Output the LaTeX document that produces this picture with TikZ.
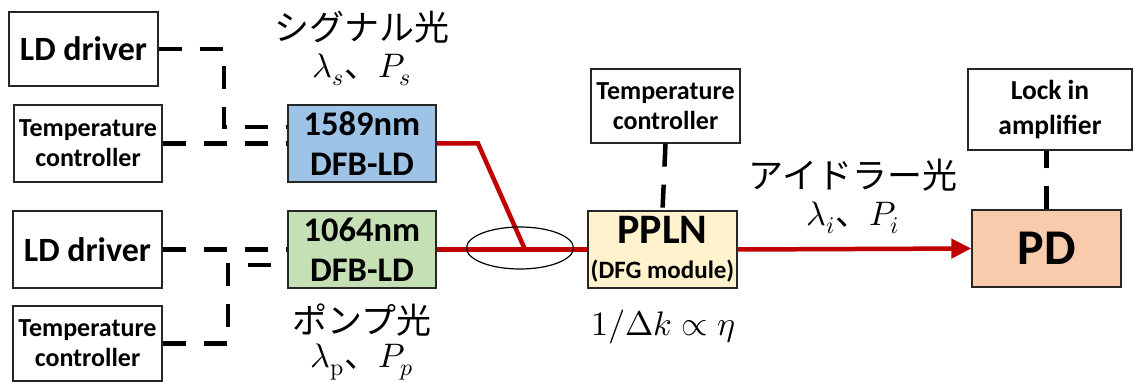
\documentclass[tikz,border=0pt]{standalone}
\usepackage{fontspec}
\usepackage{unicode-math}
\setmainfont{Carlito}
\setmathfont{Latin Modern Math}
\newfontfamily\jpfont{Noto Sans CJK JP}
\usepackage{tikz}
\usetikzlibrary{shapes.geometric, arrows.meta, positioning, calc}
\definecolor{sigblue}{RGB}{157, 195, 230}
\definecolor{pumpgreen}{RGB}{197, 224, 180}
\definecolor{pplnyellow}{RGB}{255, 242, 204}
\definecolor{pdpeach}{RGB}{248, 203, 173}
\definecolor{fiberred}{RGB}{192, 0, 0}
\newcommand{\fsz}[2]{\fontsize{#1}{#2}\selectfont}
\tikzset{
    unitbox/.style={draw=black!85, line width=1.3pt, align=center, inner sep=0pt, font=\bfseries},
    ctlline/.style={line width=4.5pt, dash pattern=on 23pt off 18pt},
    fiber/.style={draw=fiberred, line width=4.5pt},
    jplabel/.style={font=\fsz{35}{40}\jpfont},
    mathlabel/.style={font=\fsz{34}{40}}
}

\begin{document}
\begin{tikzpicture}[x=1pt, y=-1pt]
    \useasboundingbox (0,0) rectangle (1139,390);

    % drivers and controllers of the two lasers
    \node[unitbox, minimum width=149pt, minimum height=74pt, font=\bfseries\fsz{34}{38}] (drvS) at (83.5,49) {LD driver};
    \node[unitbox, minimum width=148pt, minimum height=77pt, font=\bfseries\fsz{26}{30}] (tcS) at (88,143.5) {Temperature\\controller};
    \node[unitbox, minimum width=149pt, minimum height=77pt, font=\bfseries\fsz{34}{38}] (drvP) at (87.5,249.5) {LD driver};
    \node[unitbox, minimum width=149pt, minimum height=75pt, font=\bfseries\fsz{26}{30}] (tcP) at (87.5,343.5) {Temperature\\controller};

    % lasers
    \node[unitbox, fill=sigblue, minimum width=148pt, minimum height=77pt, font=\bfseries\fsz{34.5}{40}] (ldS) at (362,143.5) {1589nm\\DFB-LD};
    \node[unitbox, fill=pumpgreen, minimum width=148pt, minimum height=77pt, font=\bfseries\fsz{34.5}{40}] (ldP) at (362,249.5) {1064nm\\DFB-LD};

    % crystal and detector
    \node[unitbox, fill=pplnyellow, minimum width=149pt, minimum height=77pt, font=\bfseries\fsz{25}{35}] (ppln) at (662.5,249.5)
        {{\fsz{42}{35}PPLN}\\(DFG module)};
    \node[unitbox, minimum width=149pt, minimum height=74pt, font=\bfseries\fsz{26}{30}] (tcM) at (665.5,106) {Temperature\\controller};
    \node[unitbox, fill=pdpeach, minimum width=149pt, minimum height=77pt, font=\bfseries\fsz{50}{56}] (pd) at (1046.5,248.5) {PD};
    \node[unitbox, minimum width=164pt, minimum height=81pt, font=\bfseries\fsz{27.5}{35}] (lia) at (1050,109.5) {Lock in\\amplifier};

    % labels
    \node[jplabel] (sigName) at (362,27) {シグナル光};
    \node[mathlabel] (sigSym) at (362,70) {$\lambda_s${\jpfont 、}$P_s$};
    \node[jplabel] (pumpName) at (362,320) {ポンプ光};
    \node[mathlabel] (pumpSym) at (362,362) {$\lambda_{\symup{p}}${\jpfont 、}$P_p$};
    \node[jplabel] (idlName) at (853,175) {アイドラー光};
    \node[mathlabel] (idlSym) at (853,218) {$\lambda_i${\jpfont 、}$P_i$};
    \node[mathlabel] (dkEta) at (663,327) {$1/\Delta k \propto \eta$};

    % control lines
    \coordinate (kS) at (224,127);
    \coordinate (kP) at (228,265);
    \draw[ctlline] (drvS.east) -| (kS) -- (kS -| ldS.west);
    \draw[ctlline] (tcS.east) -- (ldS.west);
    \draw[ctlline] (drvP.east) -- (ldP.west);
    \draw[ctlline] (tcP.east) -| (kP) -- (kP -| ldP.west);
    \draw[ctlline] (tcM.south) -- (ppln.north);
    \draw[ctlline] (pd.north) -- (pd.north |- lia.south);

    % optical path
    \coordinate (bend) at (478,143.5);
    \coordinate (join) at (525,249.5);
    \draw[fiber, line join=miter] (ldS.east) -- (bend) -- (join);
    \draw[fiber] (ldP.east) -- (ppln.west);
    \node[draw, ellipse, line width=1.2pt, minimum width=107pt, minimum height=42pt] (cpl) at (520,248) {};
    \draw[fiber, -{Triangle[length=20pt, width=19pt]}] (ppln.east) -- (pd.west);
\end{tikzpicture}
\end{document}
